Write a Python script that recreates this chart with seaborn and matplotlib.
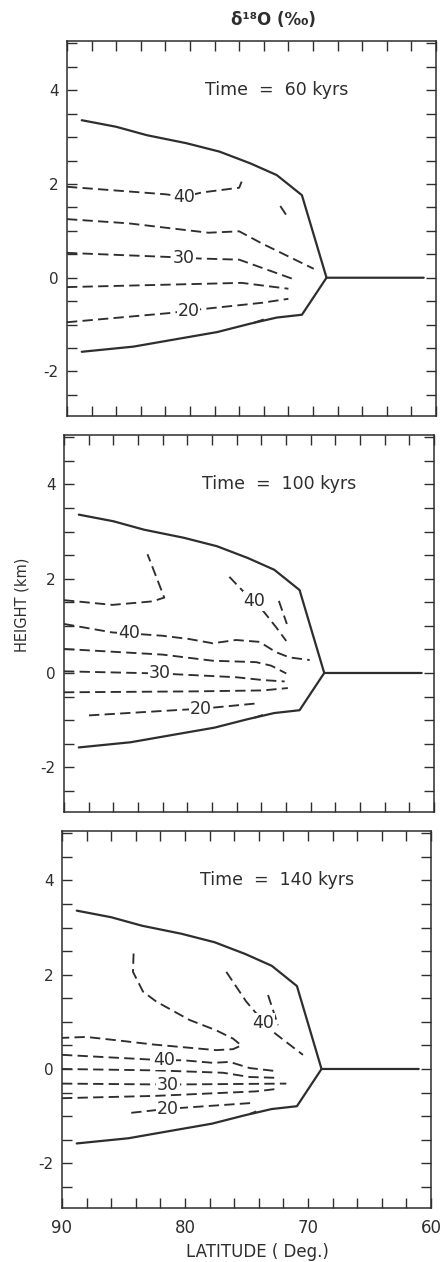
import matplotlib
matplotlib.use("Agg")
import matplotlib.pyplot as plt
from matplotlib.ticker import MultipleLocator, FuncFormatter
import seaborn as sns

# ice sheet outline (lat in deg, height in km), same in all three panels
upper_lat = [88.8, 86.0, 83.5, 80.3, 77.6, 75.1, 72.95, 71.9, 70.9, 68.9, 61.0]
upper_h = [3.36, 3.22, 3.04, 2.87, 2.69, 2.44, 2.19, 1.97, 1.76, 0.0, 0.0]
lower_lat = [88.8, 84.6, 81.1, 77.8, 75.1, 72.95, 70.9, 68.9]
lower_h = [-1.58, -1.47, -1.31, -1.16, -0.98, -0.85, -0.79, 0.0]

times = [60, 100, 140]

# delta 18O contours, 60 kyrs
t60_a = [(90.0, 1.94), (82.0, 1.78), (80.5, 1.73), (79.0, 1.82), (76.0, 1.92), (75.8, 2.05)]
t60_b = [(72.66, 1.53), (71.98, 1.26)]
t60_c = [(90.0, 1.25), (85.0, 1.16), (78.5, 0.96), (76.0, 0.99), (74.15, 0.73), (69.94, 0.19)]
t60_d = [(90.0, 0.53), (81.5, 0.44), (80.5, 0.42), (76.0, 0.385), (71.7, -0.02)]
t60_e = [(90.0, -0.20), (75.8, -0.11), (72.0, -0.235)]
t60_f = [(90.0, -0.95), (81.5, -0.75), (80.1, -0.70), (74.15, -0.535), (72.0, -0.45)]
t60_g = [(74.8, -0.96), (74.0, -0.89)]
t60_labels = [(80.5, 1.73, "40"), (80.5, 0.42, "30"), (80.1, -0.70, "20")]

# 100 kyrs
t100_a = [(90.0, 1.545), (86.07, 1.445), (82.82, 1.52), (81.87, 1.60), (83.23, 2.52)]
t100_b = [(76.59, 2.04), (75.5, 1.74), (74.55, 1.53), (73.74, 1.28), (72.8, 0.97), (71.98, 0.68)]
t100_c = [(72.58, 1.53), (71.93, 1.04)]
t100_d = [(90.0, 1.04), (86.07, 0.86), (84.72, 0.84), (82.01, 0.79), (79.84, 0.72), (77.94, 0.63),
          (76.05, 0.70), (74.15, 0.66), (72.8, 0.44), (71.71, 0.33), (70.08, 0.275)]
t100_e = [(90.0, 0.51), (82.01, 0.39), (77.94, 0.26), (74.42, 0.23), (73.2, 0.155), (71.98, -0.01)]
t100_f = [(90.0, 0.035), (82.28, -0.01), (76.05, -0.09), (73.88, -0.15), (72.11, -0.18)]
t100_g = [(90.0, -0.41), (79.3, -0.39), (73.88, -0.37), (71.85, -0.32)]
t100_h = [(87.97, -0.90), (80.38, -0.78), (78.89, -0.76), (74.15, -0.64)]
t100_i = [(74.55, -0.95), (73.88, -0.89)]
t100_labels = [(74.55, 1.53, "40"), (84.72, 0.84, "40"), (82.28, -0.01, "30"), (78.89, -0.76, "20")]

# 140 kyrs
t140_a = [(84.18, 2.45), (84.23, 2.06), (83.41, 1.64), (82.33, 1.43), (79.63, 1.04), (77.46, 0.82),
          (76.10, 0.645), (75.42, 0.50), (76.10, 0.42), (77.46, 0.40), (79.63, 0.45), (82.60, 0.52),
          (85.59, 0.61), (88.02, 0.68), (90.0, 0.66)]
t140_b = [(76.64, 2.06), (75.02, 1.43), (74.21, 1.18), (73.66, 0.98), (72.85, 0.79), (71.76, 0.57), (70.41, 0.30)]
t140_c = [(73.25, 1.57), (72.44, 0.93)]
t140_d = [(90.0, 0.30), (83.15, 0.205), (81.66, 0.185), (80.16, 0.185), (77.72, 0.13), (76.37, 0.15),
          (74.75, 0.02), (72.44, -0.05)]
t140_e = [(90.0, 0.0), (82.33, -0.03), (76.91, -0.08), (74.75, -0.17), (72.31, -0.19)]
t140_f = [(90.0, -0.31), (81.38, -0.33), (71.76, -0.31)]
t140_g = [(90.0, -0.62), (82.33, -0.57), (74.21, -0.475), (72.44, -0.42)]
t140_h = [(84.37, -0.93), (81.38, -0.845), (74.47, -0.72)]
t140_i = [(74.7, -0.95), (74.2, -0.90)]
t140_labels = [(73.66, 0.98, "40"), (81.66, 0.185, "40"), (81.38, -0.33, "30"), (81.38, -0.845, "20")]

contours = [
    [t60_a, t60_b, t60_c, t60_d, t60_e, t60_f, t60_g],
    [t100_a, t100_b, t100_c, t100_d, t100_e, t100_f, t100_g, t100_h, t100_i],
    [t140_a, t140_b, t140_c, t140_d, t140_e, t140_f, t140_g, t140_h, t140_i],
]
labels = [t60_labels, t100_labels, t140_labels]

sns.set_style("ticks")
plt.rcParams["font.family"] = ["DejaVu Sans"]
plt.rcParams["axes.unicode_minus"] = False

ink = "#2e2e2e"
W, H = 441, 1262
fig = plt.figure(figsize=(W / 100, H / 100), dpi=100)

# axes frames in pixels: left, top, right, bottom (scan is slightly skewed)
frames = [(67, 41, 436, 416), (64, 435, 434, 812), (62, 831, 431, 1208)]

for i, (l, t, r, b) in enumerate(frames):
    ax = fig.add_axes([l / W, 1 - b / H, (r - l) / W, (b - t) / H])

    sns.lineplot(x=upper_lat, y=upper_h, sort=False, estimator=None, color=ink, lw=1.6, ax=ax)
    sns.lineplot(x=lower_lat, y=lower_h, sort=False, estimator=None, color=ink, lw=1.6, ax=ax)

    for c in contours[i]:
        lat = [p[0] for p in c]
        h = [p[1] for p in c]
        sns.lineplot(x=lat, y=h, sort=False, estimator=None, color=ink, lw=1.35,
                     linestyle=(0, (5.5, 2.8)), ax=ax)

    for lat, h, s in labels[i]:
        ax.text(lat, h, s, ha="center", va="center", fontsize=12.5, color=ink,
                bbox=dict(fc="white", ec="none", pad=0.5))

    ax.text(78.8, 4.0, f"Time  =  {times[i]} kyrs", ha="left", va="center", fontsize=12.5, color=ink)

    ax.set_xlim(90, 60)
    ax.set_ylim(-2.95, 5.05)
    ax.xaxis.set_major_locator(MultipleLocator(10))
    ax.xaxis.set_minor_locator(MultipleLocator(2))
    ax.yaxis.set_major_locator(MultipleLocator(2))
    ax.yaxis.set_minor_locator(MultipleLocator(0.5))
    ax.yaxis.set_major_formatter(FuncFormatter(lambda v, p: f"{v:.0f}"))
    ax.tick_params(which="both", direction="in", top=True, right=True, length=7,
                   width=1, color=ink, labelcolor=ink, labelsize=11)
    ax.tick_params(axis="y", pad=6)
    ax.tick_params(axis="x", pad=8, labelsize=12)
    if i < 2:
        ax.tick_params(axis="x", labelbottom=False)
    for sp in ax.spines.values():
        sp.set_linewidth(1.1)
        sp.set_color(ink)
    ax.set_xlabel("")
    ax.set_ylabel("")

fig.text(273 / W, 1 - 20 / H, "δ¹⁸O (‰)", ha="center", va="center", fontsize=12,
         fontweight="bold", color=ink)
fig.text(22 / W, 1 - 605 / H, "HEIGHT (km)", ha="center", va="center", rotation=90,
         fontsize=10.5, color=ink)
fig.text(257 / W, 1 - 1252 / H, "LATITUDE ( Deg.)", ha="center", va="center",
         fontsize=12, color=ink)

fig.savefig("out.png", dpi=100, facecolor="white")
